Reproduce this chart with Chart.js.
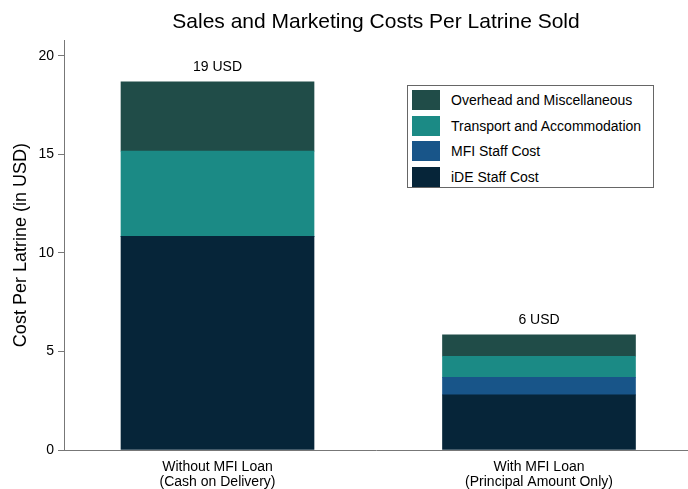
<!DOCTYPE html>
<html>
<head>
<meta charset="utf-8">
<script src="https://cdn.jsdelivr.net/npm/chart.js@4"></script>
<style>
  body { margin: 0; background: #fff; }
  #wrap { position: relative; width: 688px; height: 489px; }
  #legend { position: absolute; left: 407px; top: 85px; width: 245px; height: 101px; border: 1px solid #666; background: #fff; font-family: 'Liberation Sans', Arial, sans-serif; font-size: 14px; color: #000; }
  #legend .row { position: absolute; left: 4px; height: 20px; display: flex; align-items: center; }
  #legend .sw { width: 28px; height: 20px; margin-right: 11px; }
</style>
</head>
<body>
<div id="wrap">
  <canvas id="c" width="688" height="489"></canvas>
  <div id="legend"></div>
</div>
<script>
// categories and values (USD per latrine)
const categories = [['Without MFI Loan', '(Cash on Delivery)'], ['With MFI Loan', '(Principal Amount Only)']];
const totalLabels = ['19 USD', '6 USD'];
const ideStaff = [10.84, 2.80];
const mfiStaff = [0, 0.89];
const transport = [4.33, 1.07];
const overhead = [3.52, 1.09];

const seriesNames = ['iDE Staff Cost', 'MFI Staff Cost', 'Transport and Accommodation', 'Overhead and Miscellaneous'];
const seriesColors = ['#062539', '#185589', '#1b8a85', '#204c48'];
const seriesData = [ideStaff, mfiStaff, transport, overhead];

const FONT = "'Liberation Sans', Arial, sans-serif";

const datasets = seriesData.map((d, k) => ({
    label: seriesNames[k],
    data: d.map((v, i) => ({ x: i, y: v })),
    backgroundColor: seriesColors[k],
    borderWidth: 0,
    stack: 'cost',
    barThickness: 193
}));

// legend, top to bottom reversed from stacking order
const legendEl = document.getElementById('legend');
[3, 2, 1, 0].forEach((k, r) => {
    const row = document.createElement('div');
    row.className = 'row';
    row.style.top = (4 + r * 25.7) + 'px';
    row.innerHTML = `<div class="sw" style="background:${seriesColors[k]}"></div><span>${seriesNames[k]}</span>`;
    legendEl.appendChild(row);
});

const totalsPlugin = {
    id: 'totals',
    afterDatasetsDraw: (chart) => {
        const { ctx, scales } = chart;
        ctx.save();
        ctx.fillStyle = '#000';
        ctx.font = '14px ' + FONT;
        ctx.textAlign = 'center';
        ctx.textBaseline = 'middle';
        totalLabels.forEach((lbl, i) => {
            const tot = seriesData.reduce((s, d) => s + d[i], 0);
            ctx.fillText(lbl, scales.x.getPixelForValue(i), scales.y.getPixelForValue(tot) - 15);
        });
        ctx.restore();
    }
};

new Chart(document.getElementById('c').getContext('2d'), {
    type: 'bar',
    data: { datasets },
    options: {
        responsive: false,
        animation: false,
        events: [],
        plugins: {
            legend: { display: false },
            tooltip: { enabled: false },
            title: {
                display: true,
                fullSize: false,
                text: 'Sales and Marketing Costs Per Latrine Sold',
                color: '#000',
                font: { family: FONT, size: 21, weight: 'normal' },
                padding: { top: 10, bottom: 5 }
            }
        },
        scales: {
            x: {
                type: 'linear',
                offset: false,
                min: -0.4775,
                max: 1.4635,
                afterBuildTicks: s => { s.ticks = categories.map((_, i) => ({ value: i })); },
                afterFit: s => { s.height = 39; },
                ticks: {
                    color: '#000',
                    font: { family: FONT, size: 14, lineHeight: 1.1 },
                    padding: 9,
                    maxRotation: 0,
                    autoSkip: false,
                    callback: v => categories[v]
                },
                grid: { display: false, drawTicks: false },
                border: { display: true, color: '#777', width: 1 }
            },
            y: {
                stacked: true,
                min: 0,
                max: 20.8,
                afterBuildTicks: s => { s.ticks = [0, 5, 10, 15, 20].map(v => ({ value: v })); },
                afterFit: s => { s.width = 64; },
                ticks: { color: '#000', font: { family: FONT, size: 14 }, padding: 4 },
                grid: { display: true, drawOnChartArea: false, drawTicks: true, tickLength: 6, color: '#777' },
                border: { display: true, color: '#777', width: 1 },
                title: {
                    display: true,
                    text: 'Cost Per Latrine (in USD)',
                    color: '#000',
                    font: { family: FONT, size: 18 },
                    padding: { top: 10, bottom: 4 }
                }
            }
        }
    },
    plugins: [totalsPlugin]
});
</script>
</body>
</html>
